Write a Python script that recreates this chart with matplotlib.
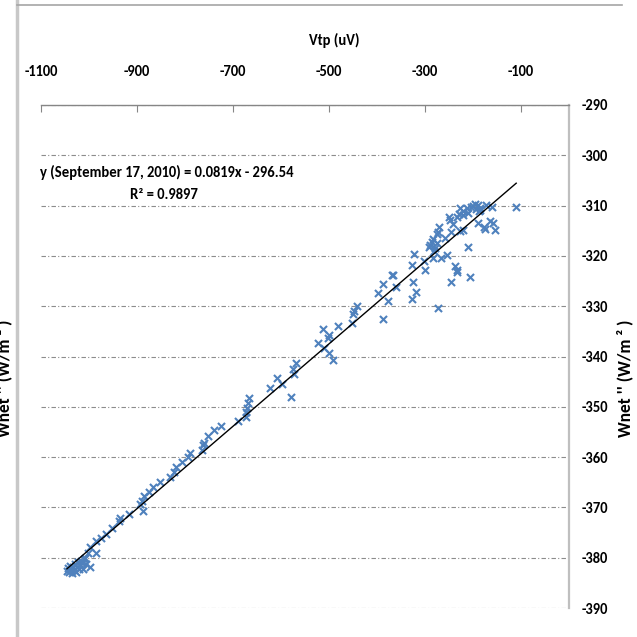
import matplotlib
matplotlib.use("Agg")
import matplotlib.pyplot as plt
from matplotlib import font_manager
from matplotlib.lines import Line2D

names = {f.name for f in font_manager.fontManager.ttflist}
FAM = "DejaVu Sans"
for cand in ["Carlito", "Liberation Sans Narrow", "PT Sans Narrow", "Open Sans Condensed",
             "Roboto Condensed", "Encode Sans Condensed", "Lato"]:
    if cand in names:
        FAM = cand
        break
plt.rcParams["font.family"] = [FAM, "DejaVu Sans"]

# ---- data ----
vtp = [-1046, -1043, -1041, -1039, -1037, -1035, -1033, -1031, -1029, -1027,
       -1025, -1023, -1021, -1019, -1017, -1015, -1013, -1011, -1008, -1006,
       -1003, -998, -997, -986, -986, -975, -965, -952, -937, -935,
       -917, -893, -889, -887, -885, -874, -866, -852, -832, -823,
       -819, -806, -794, -790, -765, -763, -760, -752, -739, -724,
       -689, -673, -673, -671, -668, -666, -623, -608, -598, -580,
       -576, -569, -573, -522, -512, -500, -503, -510, -499, -492,
       -481, -453, -449, -448, -442, -388, -378, -328, -272, -368,
       -387, -397, -360, -367, -322, -303, -328, -301, -324, -319,
       -110, -160, -173, -190, -186, -188, -185, -196, -205, -212,
       -210, -221, -227, -230, -233, -220, -190, -177, -176, -165,
       -159, -154, -251, -248, -242, -246, -227, -221, -270, -272,
       -274, -258, -284, -286, -290, -291, -276, -279, -281, -284,
       -267, -255, -211, -237, -234, -233, -246, -206, -200, -193]
wnet = [-382.6, -382.0, -382.9, -381.6, -382.4, -383.0, -381.8, -382.5, -381.2, -382.8,
        -381.9, -380.8, -382.3, -381.4, -380.6, -381.0, -382.2, -380.2, -380.1, -381.3,
        -379.1, -381.9, -377.9, -379.1, -376.7, -376.0, -375.3, -374.0, -372.8, -372.2,
        -371.3, -369.3, -368.7, -370.7, -367.7, -366.9, -365.9, -365.0, -364.0, -362.9,
        -362.0, -360.9, -359.9, -359.1, -358.5, -357.6, -357.1, -355.9, -354.7, -353.8,
        -352.8, -352.0, -351.0, -350.3, -349.2, -348.3, -346.3, -344.2, -345.5, -348.0,
        -342.4, -341.2, -343.5, -337.3, -334.6, -335.7, -336.4, -338.4, -339.4, -340.6,
        -334.0, -333.3, -331.6, -330.9, -330.0, -332.6, -328.9, -328.5, -330.4, -323.7,
        -325.5, -327.3, -326.2, -323.8, -319.6, -321.1, -321.8, -322.8, -325.1, -327.1,
        -310.3, -310.2, -309.9, -309.8, -310.4, -311.0, -310.8, -309.7, -310.2, -310.5,
        -311.5, -311.0, -310.5, -311.7, -312.2, -311.9, -313.4, -314.2, -314.7, -313.0,
        -313.4, -314.9, -312.2, -312.9, -313.7, -315.2, -315.0, -314.9, -314.2, -315.2,
        -315.6, -316.5, -316.7, -317.2, -317.8, -318.3, -317.5, -318.5, -319.0, -320.5,
        -320.5, -319.8, -318.3, -322.0, -322.8, -323.3, -325.1, -324.1, -310.0, -310.6]

slope, intercept = 0.0819, -296.54
eq_text = "y (September 17, 2010) = 0.0819x - 296.54"
r2_text = "R² = 0.9897"
x_ticks = [-1100, -900, -700, -500, -300, -100]
y_ticks = [-390, -380, -370, -360, -350, -340, -330, -320, -310, -300, -290]

W = 637.0
FS = 10.5
fig = plt.figure(figsize=(6.37, 6.37), dpi=100)
ax = fig.add_axes([41 / W, 1 - 608 / W, (569 - 41) / W, (608 - 105) / W])
ax.set_xlim(-1100, 0)
ax.set_ylim(-390, -290)

fkw = dict(fontweight="bold")

ax.xaxis.tick_top()
ax.yaxis.tick_right()
ax.set_xticks(x_ticks)
ax.set_yticks(y_ticks)
ax.set_xticklabels([str(v) for v in x_ticks], fontsize=FS, **fkw)
ax.set_yticklabels([str(v) for v in y_ticks], fontsize=FS, **fkw)
ax.tick_params(axis="x", direction="in", length=5, width=0.8, color="#868686", pad=19)
ax.tick_params(axis="y", length=0, pad=9)

for s in ["left", "bottom"]:
    ax.spines[s].set_visible(False)
ax.spines["top"].set_color("#868686")
ax.spines["top"].set_linewidth(1.0)
ax.spines["right"].set_color("#bfbfbf")
ax.spines["right"].set_linewidth(1.6)

ax.yaxis.grid(True, color="#8c8c8c", linewidth=0.8, linestyle=(0, (4, 2, 1, 2)))
ax.set_axisbelow(True)

ax.scatter(vtp, wnet, marker="x", s=26, linewidths=1.5, color="#4F81BD", zorder=3)
xmin, xmax = min(vtp), max(vtp)
ax.plot([xmin, xmax], [slope * xmin + intercept, slope * xmax + intercept],
        color="black", linewidth=1.0, zorder=4)

fig.text(40 / W, 1 - 172 / W, eq_text, fontsize=FS, ha="left", va="center", **fkw)
fig.text(164 / W, 1 - 195 / W, r2_text, fontsize=FS, ha="center", va="center", **fkw)
fig.text(334 / W, 1 - 40 / W, "Vtp (uV)", fontsize=FS, ha="center", va="center", **fkw)

ylab = "Wnet '' (W/m ² )"
fig.text(625 / W, 1 - 378 / W, ylab, fontsize=12.5, rotation=90, ha="center", va="center", **fkw)
fig.text(4 / W, 1 - 378 / W, ylab, fontsize=12.5, rotation=90, ha="center", va="center", **fkw)

fig.add_artist(Line2D([17 / W, 17 / W], [0, 1], color="#c8c8c8", linewidth=2.5))
fig.add_artist(Line2D([17 / W, 622 / W], [1 - 5 / W, 1 - 5 / W], color="#a6a6a6", linewidth=1.2))

fig.savefig("out.png", dpi=100)
